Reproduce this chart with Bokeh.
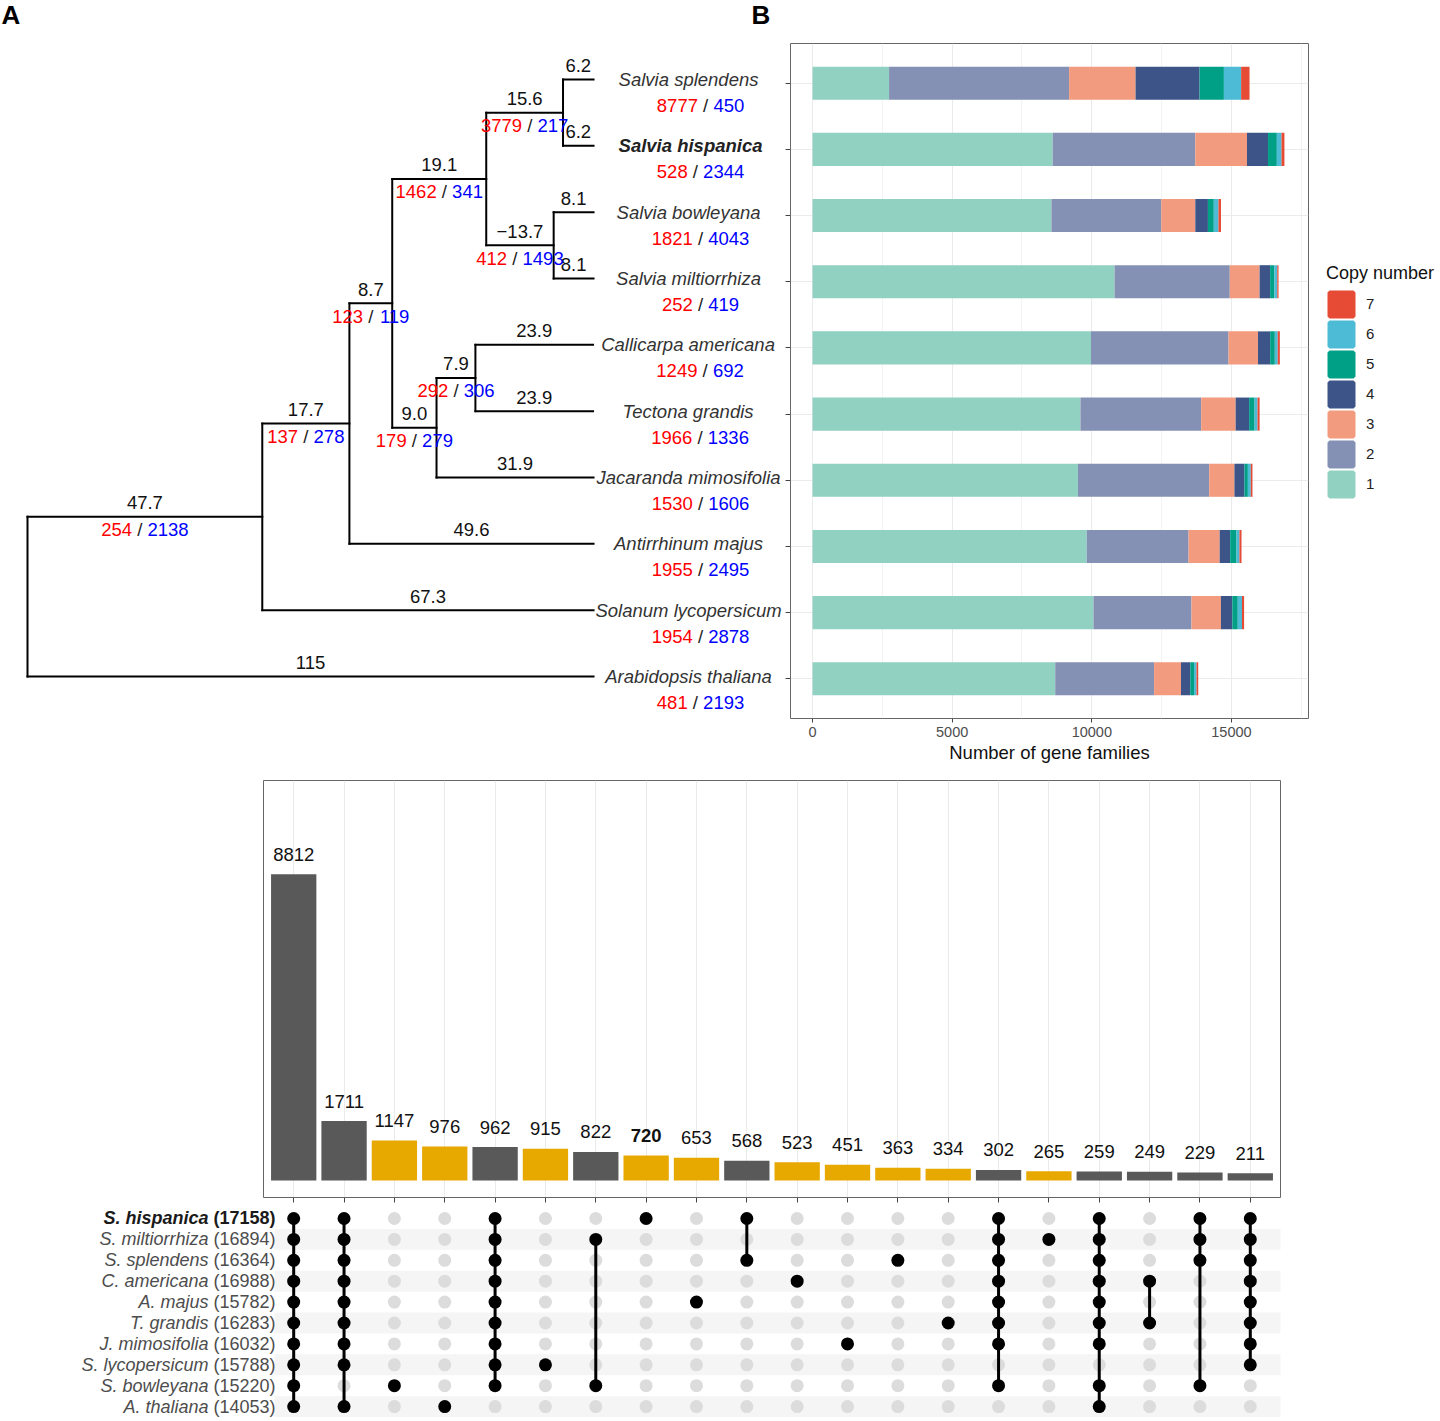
import numpy as np
from bokeh.plotting import figure
from bokeh.layouts import column, row
from bokeh.models import (Range1d, FixedTicker, Legend, LegendItem, ColumnDataSource, Label,
                          CustomJSTickFormatter)
from bokeh.embed import file_html
from bokeh.resources import INLINE
from bokeh.core.properties import value

FONT = "Liberation Sans"
FS = 18.5
DIGIT = 0.5562 * FS
SLASH = 0.8333 * FS

# ---------------- Panel A: species tree ----------------
tip_names = ["Salvia splendens", "Salvia hispanica", "Salvia bowleyana", "Salvia miltiorrhiza",
             "Callicarpa americana", "Tectona grandis", "Jacaranda mimosifolia",
             "Antirrhinum majus", "Solanum lycopersicum", "Arabidopsis thaliana"]
tip_gain = [8777, 528, 1821, 252, 1249, 1966, 1530, 1955, 1954, 481]
tip_loss = [450, 2344, 4043, 419, 692, 1336, 1606, 2495, 2878, 2193]
tip_parent = ["N5", "N5", "N6", "N6", "N8", "N8", "N7", "N2", "N1", "root"]
tip_length = [6.2, 6.2, 8.1, 8.1, 23.9, 23.9, 31.9, 49.6, 67.3, 115]
tip_length_label = ["6.2", "6.2", "8.1", "8.1", "23.9", "23.9", "31.9", "49.6", "67.3", "115"]

node_names = ["N1", "N2", "N3", "N4", "N5", "N6", "N7", "N8"]
node_parent = ["root", "N1", "N2", "N3", "N4", "N4", "N3", "N7"]
node_length = [47.7, 17.7, 8.7, 19.1, 15.6, 13.7, 9.0, 7.9]
node_length_label = ["47.7", "17.7", "8.7", "19.1", "15.6", "\u221213.7", "9.0", "7.9"]
node_gain = [254, 137, 123, 1462, 3779, 412, 179, 292]
node_loss = [2138, 278, 119, 341, 217, 1493, 279, 306]

# ---------------- Panel B: copy numbers ----------------
copy_labels = ["1", "2", "3", "4", "5", "6", "7"]
copy_colors = ["#91D1C2", "#8491B4", "#F39B7F", "#3C5488", "#00A087", "#4DBBD5", "#E64B35"]
copy1 = [2741, 8599, 8554, 10813, 9970, 9593, 9503, 9819, 10060, 8690]
copy2 = [6446, 5105, 3931, 4126, 4925, 4322, 4699, 3645, 3509, 3539]
copy3 = [2380, 1852, 1220, 1069, 1054, 1235, 904, 1114, 1054, 964]
copy4 = [2289, 753, 452, 376, 437, 482, 361, 376, 407, 331]
copy5 = [873, 316, 211, 151, 166, 196, 120, 226, 196, 136]
copy6 = [617, 166, 166, 105, 105, 105, 105, 105, 151, 90]
copy7 = [301, 105, 90, 45, 75, 75, 60, 75, 75, 60]
x_ticks_b = [0, 5000, 10000, 15000]
x_minor_b = [2500, 7500, 12500, 17500]

# ---------------- Panel C: upset ----------------
set_names = ["S. hispanica", "S. miltiorrhiza", "S. splendens", "C. americana", "A. majus",
             "T. grandis", "J. mimosifolia", "S. lycopersicum", "S. bowleyana", "A. thaliana"]
set_sizes = [17158, 16894, 16364, 16988, 15782, 16283, 16032, 15788, 15220, 14053]
inter_sizes = [8812, 1711, 1147, 976, 962, 915, 822, 720, 653, 568,
               523, 451, 363, 334, 302, 265, 259, 249, 229, 211]
inter_members = [
    set_names[:],
    set_names[:8] + ["A. thaliana"],
    ["S. bowleyana"],
    ["A. thaliana"],
    set_names[:9],
    ["S. lycopersicum"],
    ["S. miltiorrhiza", "S. bowleyana"],
    ["S. hispanica"],
    ["A. majus"],
    ["S. hispanica", "S. splendens"],
    ["C. americana"],
    ["J. mimosifolia"],
    ["S. splendens"],
    ["T. grandis"],
    set_names[:7] + ["S. bowleyana"],
    ["S. miltiorrhiza"],
    set_names[:7] + ["S. bowleyana", "A. thaliana"],
    ["C. americana", "T. grandis"],
    ["S. hispanica", "S. miltiorrhiza", "S. splendens", "S. bowleyana"],
    set_names[:8],
]
focus_set = "S. hispanica"

EMPTY = CustomJSTickFormatter(code="return ''")
common_fig = dict(output_backend="svg", toolbar_location=None, frame_align=False)

# =============== build tree geometry ===============
all_nodes = node_names + tip_names
parent = dict(zip(all_nodes, node_parent + tip_parent))
blen = dict(zip(all_nodes, node_length + tip_length))
xpos = {"root": 0.0}
for n in all_nodes:
    xpos[n] = xpos[parent[n]] + blen[n]
children = {}
for n in all_nodes:
    children.setdefault(parent[n], []).append(n)
ypos = {t: i + 1 for i, t in enumerate(tip_names)}


def gety(n):
    if n not in ypos:
        ypos[n] = float(np.mean([gety(c) for c in children[n]]))
    return ypos[n]


gety("root")

pa = figure(width=785, height=765, x_range=Range1d(-5.486, 154.0), y_range=Range1d(11.342, -0.191),
            min_border=0, **common_fig)
pa.axis.visible = False
pa.grid.visible = False
pa.outline_line_color = None

hx0 = [xpos[parent[n]] for n in all_nodes]
hx1 = [xpos[n] for n in all_nodes]
hy = [ypos[n] for n in all_nodes]
pa.segment(x0=hx0, y0=hy, x1=hx1, y1=hy, line_width=2, line_color="black", line_cap="square")
internal = ["root"] + node_names
vx = [xpos[n] for n in internal]
vy0 = [min(ypos[c] for c in children[n]) for n in internal]
vy1 = [max(ypos[c] for c in children[n]) for n in internal]
pa.segment(x0=vx, y0=vy0, x1=vx, y1=vy1, line_width=2, line_color="black", line_cap="square")

txt = dict(text_font=value(FONT), text_font_size=f"{FS}px", text_baseline="middle")
mx = [(xpos[parent[n]] + xpos[n]) / 2 for n in all_nodes]
pa.text(x=mx, y=hy, text=node_length_label + tip_length_label, y_offset=-14,
        text_align="center", text_color="#111111", **txt)


def gain_loss(p, xs, ys, gains, losses, cx, dy):
    red_off, slash_off, blue_off = [], [], []
    for g, l in zip(gains, losses):
        nr, nb = len(str(g)), len(str(l))
        W = (nr + nb) * DIGIT + SLASH
        red_off.append(cx - W / 2)
        slash_off.append(cx - W / 2 + nr * DIGIT + SLASH / 2)
        blue_off.append(cx + W / 2)
    p.text(x=xs, y=ys, text=[str(g) for g in gains], x_offset=red_off, y_offset=dy,
           text_align="left", text_color="#FF0000", **txt)
    p.text(x=xs, y=ys, text=["/"] * len(xs), x_offset=slash_off, y_offset=dy,
           text_align="center", text_color="#222222", **txt)
    p.text(x=xs, y=ys, text=[str(l) for l in losses], x_offset=blue_off, y_offset=dy,
           text_align="right", text_color="#0000FF", **txt)


gain_loss(pa, mx[:len(node_names)], hy[:len(node_names)], node_gain, node_loss, 0, 13)
tx = [xpos[t] for t in tip_names]
ty = [ypos[t] for t in tip_names]
gain_loss(pa, tx, ty, tip_gain, tip_loss, 107, 26)

plain = [i for i, t in enumerate(tip_names) if t != "Salvia hispanica"]
bold = [i for i, t in enumerate(tip_names) if t == "Salvia hispanica"]
pa.text(x=[tx[i] for i in plain], y=[ty[i] for i in plain], text=[tip_names[i] for i in plain],
        x_offset=95, text_align="center", text_color="#333333", text_font_style="italic", **txt)
pa.text(x=[tx[i] for i in bold], y=[ty[i] for i in bold], text=[tip_names[i] for i in bold],
        x_offset=97, text_align="center", text_color="#222222", text_font_style="bold italic", **txt)

for letter, lx in (("A", -5.28), ("B", 147.1)):
    pa.add_layout(Label(x=lx, y=0.035, text=letter, text_font=FONT, text_font_size="26px",
                        text_font_style="bold", text_baseline="middle", text_align="left",
                        text_color="black"))

# =============== Panel B ===============
pb = figure(width=524, height=765, x_range=Range1d(-788, 17758), y_range=Range1d(10.6, 0.4),
            min_border_left=5, min_border_right=1, min_border_top=43, min_border_bottom=47,
            **common_fig)
srcb = ColumnDataSource(dict(y=[ypos[t] for t in tip_names], c1=copy1, c2=copy2, c3=copy3,
                             c4=copy4, c5=copy5, c6=copy6, c7=copy7))
stack_cols = ["c1", "c2", "c3", "c4", "c5", "c6", "c7"]
pb.hbar_stack(stack_cols, y="y", height=0.5, fill_color=copy_colors, line_color=None, source=srcb)

pb.outline_line_color = "#666666"
pb.xaxis.ticker = FixedTicker(ticks=x_ticks_b, minor_ticks=x_minor_b)
pb.xaxis.axis_label = "Number of gene families"
pb.xaxis.axis_label_text_font = FONT
pb.xaxis.axis_label_text_font_size = "18.5px"
pb.xaxis.axis_label_text_font_style = "normal"
pb.xaxis.axis_label_text_color = "#111111"
pb.xaxis.axis_label_standoff = 2
pb.xaxis.major_label_text_font = FONT
pb.xaxis.major_label_text_font_size = "14.5px"
pb.xaxis.major_label_text_color = "#4D4D4D"
pb.xaxis.major_label_standoff = 4
pb.xaxis.major_tick_in = 0
pb.xaxis.major_tick_out = 4
pb.xaxis.minor_tick_out = 0
pb.xaxis.minor_tick_in = 0
pb.xaxis.axis_line_color = None
pb.xaxis.major_tick_line_color = "#444444"
pb.yaxis.ticker = FixedTicker(ticks=list(range(1, 11)))
pb.yaxis.formatter = EMPTY
pb.yaxis.major_label_standoff = 0
pb.yaxis.major_tick_in = 0
pb.yaxis.major_tick_out = 5
pb.yaxis.minor_tick_out = 0
pb.yaxis.axis_line_color = None
pb.yaxis.major_tick_line_color = "#444444"
pb.xgrid.grid_line_color = "#EBEBEB"
pb.xgrid.minor_grid_line_color = "#F3F3F3"
pb.ygrid.grid_line_color = "#EBEBEB"

# legend panel (separate figure right of panel B); key bars carry a missing (NaN) position
pl = figure(width=131, height=765, x_range=Range1d(0, 1), y_range=Range1d(0, 1),
            min_border_left=17, min_border_right=0, min_border_top=43, min_border_bottom=47,
            **common_fig)
pl.axis.visible = False
pl.grid.visible = False
pl.outline_line_color = None
key_renderers = [pl.hbar(y=[float("nan")], left=[-3], right=[-2], height=0.5, fill_color=c,
                         line_color=c, line_width=4) for c in copy_colors]
items = [LegendItem(label=copy_labels[i], renderers=[key_renderers[i]]) for i in reversed(range(7))]
leg = Legend(items=items, title="Copy number", location="center_left", orientation="vertical",
             title_text_font=FONT, title_text_font_size="18px", title_text_font_style="normal",
             title_text_color="#111111", title_standoff=5,
             label_text_font=FONT, label_text_font_size="15px", label_text_color="#222222",
             glyph_width=30, glyph_height=30, label_height=30, spacing=0, label_standoff=10,
             padding=0, margin=0, border_line_color=None, background_fill_alpha=0)
pl.add_layout(leg)

# =============== Panel C: intersection bars ===============
ncol = len(inter_sizes)
col_x = list(range(1, ncol + 1))
bar_colors = ["#E7A800" if len(m) == 1 else "#595959" for m in inter_members]

pc = figure(width=1440, height=438, x_range=Range1d(0.4, ncol + 0.6), y_range=Range1d(-490, 11510),
            min_border_left=263, min_border_right=160, min_border_top=15, min_border_bottom=6,
            **common_fig)
pc.vbar(x=col_x, top=inter_sizes, width=0.9, fill_color=bar_colors, line_color=None)
is_focus = [m == [focus_set] for m in inter_members]
ctx = dict(text_font=value(FONT), text_font_size="18.5px", text_baseline="middle",
           text_align="center", text_color="#111111", y_offset=-20)
pc.text(x=[x for x, f in zip(col_x, is_focus) if not f], y=[v for v, f in zip(inter_sizes, is_focus) if not f],
        text=[str(v) for v, f in zip(inter_sizes, is_focus) if not f], **ctx)
pc.text(x=[x for x, f in zip(col_x, is_focus) if f], y=[v for v, f in zip(inter_sizes, is_focus) if f],
        text=[str(v) for v, f in zip(inter_sizes, is_focus) if f], text_font_style="bold", **ctx)
pc.outline_line_color = "#666666"
pc.yaxis.visible = False
pc.ygrid.visible = False
pc.xaxis.ticker = FixedTicker(ticks=col_x)
pc.xaxis.formatter = EMPTY
pc.xaxis.major_label_standoff = 0
pc.xaxis.major_tick_in = 0
pc.xaxis.major_tick_out = 5
pc.xaxis.minor_tick_out = 0
pc.xaxis.axis_line_color = None
pc.xaxis.major_tick_line_color = "#444444"
pc.xgrid.grid_line_color = "#EBEBEB"
pc.add_layout(Label(x=-4.8, y=11230, text="C", text_font=FONT, text_font_size="26px",
                    text_font_style="bold", text_baseline="middle", text_align="left", text_color="black"))

# =============== Panel C: membership matrix ===============
nrow = len(set_names)
pm = figure(width=1440, height=218, x_range=Range1d(-4.8235, 23.778), y_range=Range1d(9.713, -0.7177),
            min_border=0, **common_fig)
pm.axis.visible = False
pm.grid.visible = False
pm.outline_line_color = None

stripe_rows = [r for r in range(nrow) if r % 2 == 1]
pm.hbar(y=stripe_rows, left=0.62, right=ncol + 0.6, height=1, fill_color="#F5F5F5", line_color=None)

gx, gy, bx, by = [], [], [], []
lx, ly0, ly1 = [], [], []
for ci, mem in enumerate(inter_members):
    rows_in = [set_names.index(m) for m in mem]
    for r in range(nrow):
        if r in rows_in:
            bx.append(col_x[ci]); by.append(r)
        else:
            gx.append(col_x[ci]); gy.append(r)
    if len(rows_in) > 1:
        lx.append(col_x[ci]); ly0.append(min(rows_in)); ly1.append(max(rows_in))
pm.scatter(x=gx, y=gy, size=13, fill_color="#DCDCDC", line_color=None)
pm.segment(x0=lx, y0=ly0, x1=lx, y1=ly1, line_width=3, line_color="black")
pm.scatter(x=bx, y=by, size=13, fill_color="black", line_color=None)

RFS = 18
count_w = 3.446 * RFS
space_w = 0.278 * RFS
row_idx = list(range(nrow))
rtxt = dict(text_font=value(FONT), text_font_size=f"{RFS}px", text_baseline="middle", text_align="right")
norm = [r for r in row_idx if set_names[r] != focus_set]
foc = [r for r in row_idx if set_names[r] == focus_set]
pm.text(x=[0.4] * len(norm), y=norm, text=[f"({set_sizes[r]})" for r in norm], x_offset=12,
        text_color="#4D4D4D", **rtxt)
pm.text(x=[0.4] * len(norm), y=norm, text=[set_names[r] for r in norm], x_offset=12 - count_w - space_w,
        text_color="#4D4D4D", text_font_style="italic", **rtxt)
pm.text(x=[0.4] * len(foc), y=foc, text=[f"({set_sizes[r]})" for r in foc], x_offset=12,
        text_color="#1A1A1A", text_font_style="bold", **rtxt)
pm.text(x=[0.4] * len(foc), y=foc, text=[set_names[r] for r in foc], x_offset=12 - count_w - space_w,
        text_color="#1A1A1A", text_font_style="bold italic", **rtxt)

layout = column(row(pa, pb, pl), pc, pm)
open("out.html", "w").write(file_html(layout, INLINE))
